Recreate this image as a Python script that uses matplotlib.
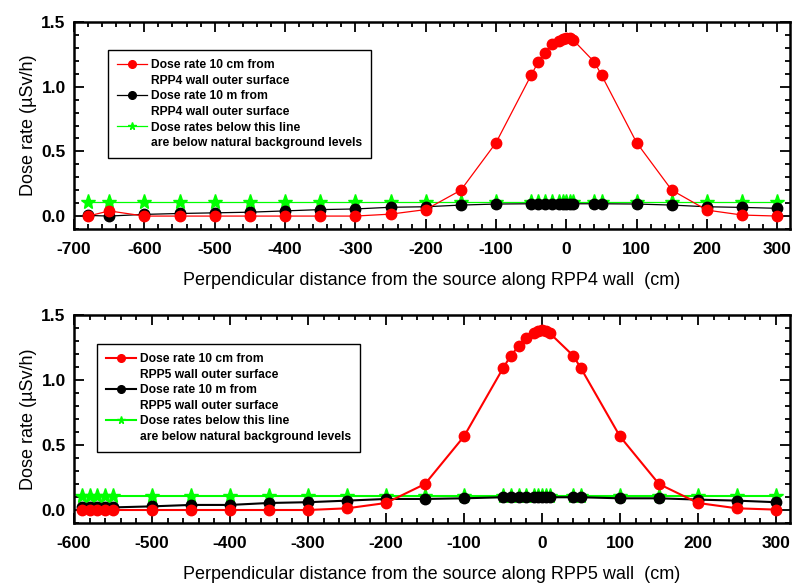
import matplotlib
matplotlib.use("Agg")
import matplotlib.pyplot as plt
from matplotlib.lines import Line2D
from matplotlib.ticker import MultipleLocator

plt.rcParams['font.family'] = ['Liberation Sans', 'DejaVu Sans']
plt.rcParams['axes.unicode_minus'] = False

# ---- RPP4 wall ----
x4 = [-680, -650, -600, -550, -500, -450, -400, -350, -300, -250, -200, -150, -100,
      -50, -40, -30, -20, -10, -5, 0, 5, 10, 40, 50, 100, 150, 200, 250, 300]
near4 = [0.0, 0.04, 0.0, 0.0, 0.0, 0.0, 0.0, 0.0, 0.0, 0.015, 0.05, 0.20, 0.567,
         1.09, 1.19, 1.26, 1.33, 1.355, 1.37, 1.38, 1.38, 1.36, 1.19, 1.09, 0.567, 0.20, 0.046, 0.008, 0.0]
far4 = [0.005, 0.0, 0.013, 0.02, 0.025, 0.03, 0.04, 0.05, 0.055, 0.068, 0.072, 0.085, 0.093,
        0.095, 0.095, 0.095, 0.095, 0.095, 0.095, 0.095, 0.095, 0.095, 0.095, 0.095, 0.093, 0.085, 0.072, 0.067, 0.06]
bg4 = [0.11] * len(x4)

# ---- RPP5 wall ----
x5 = [-590, -580, -570, -560, -550, -500, -450, -400, -350, -300, -250, -200, -150, -100,
      -50, -40, -30, -20, -10, -5, 0, 5, 10, 40, 50, 100, 150, 200, 250, 300]
near5 = [0.0, 0.0, 0.0, 0.0, 0.0, 0.0, 0.0, 0.0, 0.0, 0.0, 0.013, 0.054, 0.20, 0.566,
         1.09, 1.187, 1.26, 1.32, 1.36, 1.377, 1.385, 1.377, 1.36, 1.187, 1.09, 0.566, 0.20, 0.054, 0.013, 0.003]
far5 = [0.02, 0.02, 0.02, 0.02, 0.02, 0.028, 0.039, 0.039, 0.054, 0.06, 0.072, 0.085, 0.085, 0.09,
        0.098, 0.098, 0.098, 0.098, 0.098, 0.098, 0.098, 0.098, 0.098, 0.098, 0.098, 0.09, 0.09, 0.08, 0.072, 0.06]
bg5 = [0.11] * len(x5)

xticks4 = [-700, -600, -500, -400, -300, -200, -100, 0, 100, 200, 300]
xticks5 = [-600, -500, -400, -300, -200, -100, 0, 100, 200, 300]
yticks = [0.0, 0.5, 1.0, 1.5]

RED = '#ff0000'
GREEN = '#00ff00'

fig = plt.figure(figsize=(7.95, 5.86), dpi=100)
ax1 = fig.add_axes([0.0931, 0.6092, 0.9006, 0.3532])
ax2 = fig.add_axes([0.0931, 0.1075, 0.9006, 0.3550])


def panel(ax, x, near, far, bg, wall, xticks, xlim, lw, legend_pos, xlabelpad):
    hg, = ax.plot(x, bg, color=GREEN, lw=lw, marker='*', ms=11, mec=GREEN, mfc=GREEN, zorder=2)
    hb, = ax.plot(x, far, color='black', lw=lw, marker='o', ms=7.5, mec='black', mfc='black', zorder=3)
    hr, = ax.plot(x, near, color=RED, lw=lw, marker='o', ms=7.5, mec=RED, mfc=RED, zorder=4)

    ax.set_xlim(*xlim)
    ax.set_ylim(-0.1, 1.5)
    ax.set_xticks(xticks)
    ax.set_yticks(yticks)
    ax.set_yticklabels([f"{v:.1f}" for v in yticks])
    ax.xaxis.set_minor_locator(MultipleLocator(20))
    ax.yaxis.set_minor_locator(MultipleLocator(0.1))
    ax.tick_params(which='both', direction='in', top=True, right=True, width=1.3)
    ax.tick_params(which='major', length=7, labelsize=12.5)
    ax.tick_params(axis='x', which='major', pad=9)
    ax.tick_params(axis='y', which='major', pad=6)
    ax.tick_params(which='minor', length=3.5)
    for lab in ax.get_xticklabels() + ax.get_yticklabels():
        lab.set_fontweight('bold')
    for sp in ax.spines.values():
        sp.set_linewidth(1.8)

    ax.set_xlabel(f"Perpendicular distance from the source along {wall} wall  (cm)",
                  fontsize=13, labelpad=xlabelpad)
    ax.set_ylabel("Dose rate (\u00b5Sv/h)", fontsize=13, labelpad=3)

    # each entry's second line is an unmarked row so the symbol sits by the first line
    blank = Line2D([], [], linestyle='none', marker=None)
    handles = [hr, blank, hb, blank, hg, blank]
    labels = ["Dose rate 10 cm from", f"{wall} wall outer surface",
              "Dose rate 10 m from", f"{wall} wall outer surface",
              "Dose rates below this line", "are below natural background levels"]
    leg = ax.legend(handles, labels,
                    loc='upper left', bbox_to_anchor=legend_pos, numpoints=1,
                    prop={'size': 8.7, 'weight': 'bold'}, frameon=True, fancybox=False,
                    edgecolor='black', framealpha=1, handlelength=2.5, handletextpad=0.3,
                    labelspacing=0.3, borderpad=0.75, borderaxespad=0)
    leg.get_frame().set_linewidth(1.0)
    for h in leg.legend_handles[::2]:
        h.set_markersize(5.5)


panel(ax1, x4, near4, far4, bg4, "RPP4", xticks4, (-700, 318), 0.9, (0.047, 0.865), 11)
panel(ax2, x5, near5, far5, bg5, "RPP5", xticks5, (-600, 318), 1.5, (0.032, 0.861), 11.5)

fig.savefig("out.png", dpi=100)
